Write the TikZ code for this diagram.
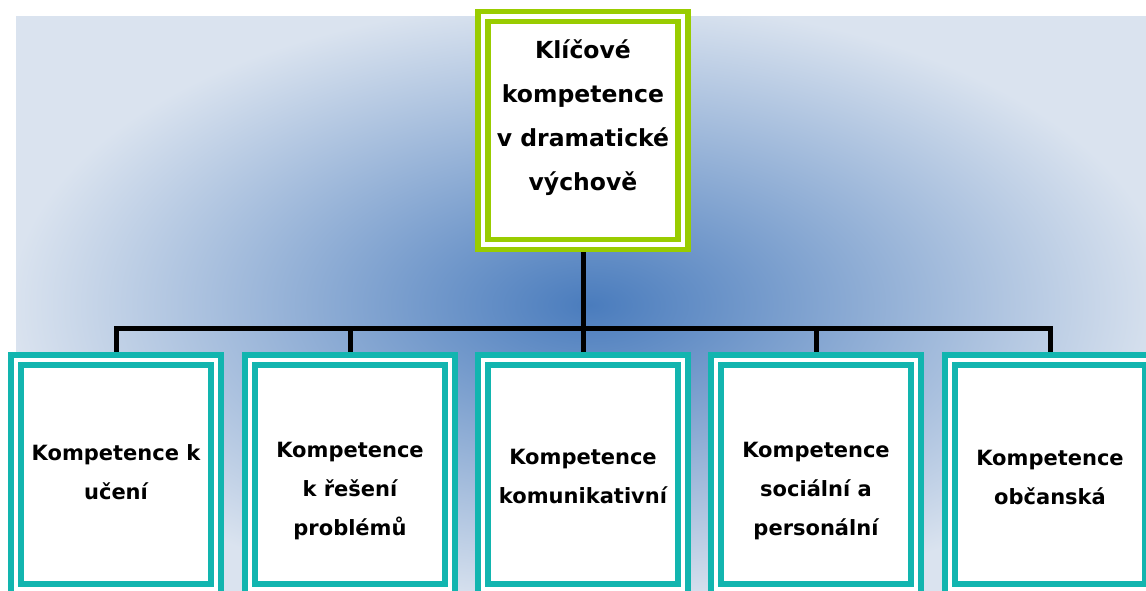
\documentclass[tikz,border=0pt]{standalone}
\usepackage{fontspec}
\setmainfont{DejaVu Sans}
\usepackage{xcolor}
\usetikzlibrary{backgrounds}
\definecolor{bglight}{HTML}{DAE3EF}
\definecolor{bgdark}{HTML}{4A7CBD}
\definecolor{limegreen}{HTML}{99CC00}
\definecolor{tealbox}{HTML}{12B5AF}
\tikzset{
  compbox/.style={draw=#1,line width=5.5pt,double=white,double distance=4.5pt,
    fill=white,minimum width=200pt,minimum height=229pt,inner sep=0pt},
  headtext/.style={font=\fontsize{23.5}{44}\selectfont\bfseries,align=center},
  subtext/.style={font=\fontsize{21}{39}\selectfont\bfseries,align=center},
  link/.style={line width=5pt,black}
}

\begin{document}
\begin{tikzpicture}[x=1pt,y=-1pt]
  \useasboundingbox (0,0) rectangle (1146,591);
  % frames
  \node[compbox=limegreen,minimum height=228pt] (top) at (583,130.5) {};
  \node[compbox=tealbox] (k1) at (116,474.5) {};
  \node[compbox=tealbox] (k2) at (350,474.5) {};
  \node[compbox=tealbox] (k3) at (583,474.5) {};
  \node[compbox=tealbox] (k4) at (816,474.5) {};
  \node[compbox=tealbox] (k5) at (1050,474.5) {};
  % texts
  \node[headtext] (toptext) at ([yshift=13pt]top.center) {Klíčové\\kompetence\\v dramatické\\výchově};
  \node[subtext] (k1text) at ([yshift=2pt]k1.center) {Kompetence k\\učení};
  \node[subtext] (k2text) at ([yshift=-17pt]k2.center) {Kompetence\\k řešení\\problémů};
  \node[subtext] (k3text) at ([yshift=-2pt]k3.center) {Kompetence\\komunikativní};
  \node[subtext] (k4text) at ([yshift=-17pt]k4.center) {Kompetence\\sociální a\\personální};
  \node[subtext] (k5text) at ([yshift=-2.5pt]k5.center) {Kompetence\\občanská};
  \begin{scope}[on background layer]
    \begin{scope}
      \clip (16,17) rectangle (1146,591);
      \fill[bglight] (16,17) rectangle (1146,591);
      \shade[inner color=bgdark,outer color=bglight] (10,0) rectangle (1170,610);
    \end{scope}
    \coordinate (bar) at (583,328);
    \draw[link] (top.center) -- (top |- bar);
    \draw[link] (k1.center) |- (k5 |- bar) -- (k5.center);
    \foreach \k in {k2,k3,k4} \draw[link] (\k.center) -- (\k |- bar);
  \end{scope}
\end{tikzpicture}
\end{document}
